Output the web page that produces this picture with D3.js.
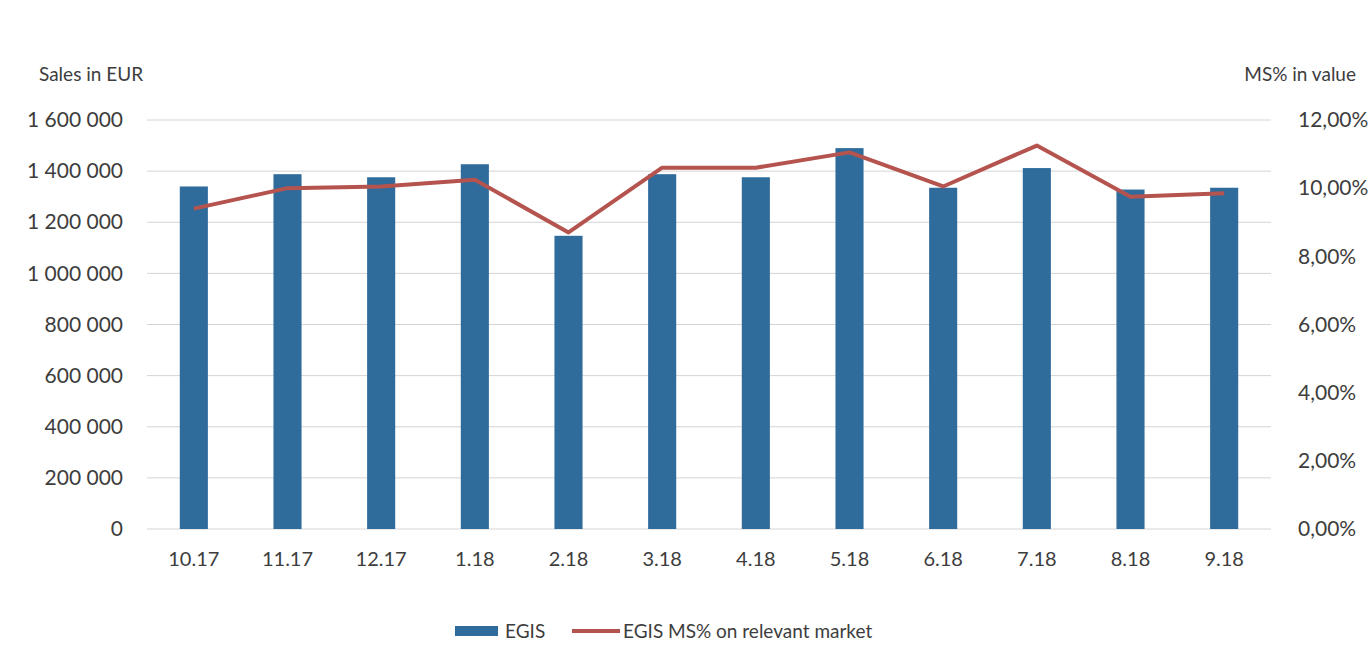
<!DOCTYPE html>
<html>
<head>
<meta charset="utf-8">
<script src="https://cdn.jsdelivr.net/npm/d3@7"></script>
<style>
  body { margin: 0; background: #fff; }
  text { font-family: Lato, "Open Sans", sans-serif; fill: #3d3d3d; }
</style>
</head>
<body>
<svg width="1372" height="665"></svg>
<script>
// data
var months = ['10.17', '11.17', '12.17', '1.18', '2.18', '3.18', '4.18', '5.18', '6.18', '7.18', '8.18', '9.18'];
var sales = [1340000, 1388000, 1376000, 1427000, 1147000, 1388000, 1376000, 1490000, 1335000, 1412000, 1328000, 1335000];
var share = [9.4, 10.0, 10.05, 10.25, 8.7, 10.6, 10.6, 11.05, 10.05, 11.25, 9.75, 9.85];
var leftTicks = [0, 200000, 400000, 600000, 800000, 1000000, 1200000, 1400000, 1600000];
var rightTicks = [0, 2, 4, 6, 8, 10, 12];

var svg = d3.select('svg');
var plotL = 147, plotR = 1271, plotT = 120, plotB = 529;

var x = d3.scaleBand().domain(months).range([plotL, plotR]).paddingInner(0.7).paddingOuter(0.35);
var y = d3.scaleLinear().domain([0, 1600000]).range([plotB, plotT]);
var y2 = d3.scaleLinear().domain([0, 12]).range([plotB, plotT]);

var fmtSales = function(d) { return d3.format(',')(d).replace(/,/g, ' '); };
var fmtPct = function(d) { return d.toFixed(2).replace('.', ',') + '%'; };

// grid
svg.append('g').selectAll('line').data(leftTicks).join('line')
  .attr('x1', plotL).attr('x2', plotR)
  .attr('y1', d => y(d)).attr('y2', d => y(d))
  .attr('stroke', '#d4d4d4').attr('stroke-width', 1);

// left axis
var gl = svg.append('g').attr('transform', 'translate(' + (plotL - 21) + ',0)')
  .call(d3.axisLeft(y).tickValues(leftTicks).tickFormat(fmtSales).tickSize(0));
gl.select('.domain').remove();
gl.selectAll('text').style('font-size', '21px').attr('fill', '#3d3d3d');

// right axis
var gr = svg.append('g').attr('transform', 'translate(' + (plotR + 24) + ',0)')
  .call(d3.axisRight(y2).tickValues(rightTicks).tickFormat(fmtPct).tickSize(0));
gr.select('.domain').remove();
gr.selectAll('text').style('font-size', '21px').attr('fill', '#3d3d3d');

// bottom axis
var gb = svg.append('g').attr('transform', 'translate(0,' + (plotB + 20) + ')')
  .call(d3.axisBottom(x).tickSize(0));
gb.select('.domain').remove();
gb.selectAll('text').style('font-size', '20px').attr('fill', '#3d3d3d');

// bars
svg.append('g').selectAll('rect').data(sales).join('rect')
  .attr('x', (d, i) => x(months[i]))
  .attr('y', d => y(d))
  .attr('width', x.bandwidth())
  .attr('height', d => y(0) - y(d))
  .attr('fill', '#2f6c9c');

// line
var line = d3.line().x((d, i) => x(months[i]) + x.bandwidth() / 2).y(d => y2(d));
svg.append('path').datum(share)
  .attr('d', line)
  .attr('fill', 'none')
  .attr('stroke', '#b5544e')
  .attr('stroke-width', 4)
  .attr('stroke-linejoin', 'round');

// axis titles
svg.append('text').attr('x', 39).attr('y', 81).style('font-size', '19px').text('Sales in EUR');
svg.append('text').attr('x', 1356).attr('y', 81).attr('text-anchor', 'end').style('font-size', '19px').text('MS% in value');

// legend
var lg = svg.append('g');
lg.append('rect').attr('x', 455).attr('y', 626).attr('width', 43).attr('height', 10).attr('fill', '#2f6c9c');
lg.append('text').attr('x', 505).attr('y', 638).style('font-size', '19px').text('EGIS');
lg.append('line').attr('x1', 572).attr('x2', 620).attr('y1', 631).attr('y2', 631)
  .attr('stroke', '#b5544e').attr('stroke-width', 4);
lg.append('text').attr('x', 623).attr('y', 638).style('font-size', '19px').text('EGIS MS% on relevant market');
</script>
</body>
</html>
